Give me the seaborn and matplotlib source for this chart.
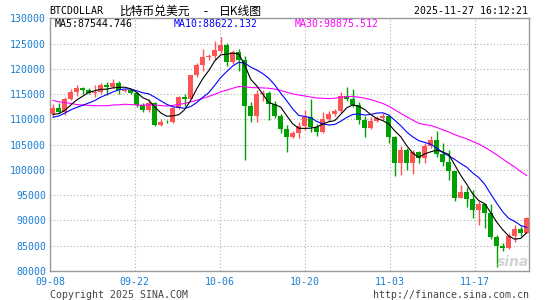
import numpy as np
import pandas as pd
import matplotlib
matplotlib.use("Agg")
import matplotlib.pyplot as plt
import seaborn as sns

# ---------------- data ----------------
# closes before the visible window (needed for the moving averages)
history_close = [119300, 118700, 120200, 123300, 118300, 117400, 117500, 117400,
                 116300, 113000, 114300, 112500, 116900, 115400, 113500, 110100,
                 111800, 111200, 112600, 108400, 108800, 108200, 109200, 111200,
                 111700, 110700, 110700, 110200, 111100]

opens = [111000, 112150, 111400, 113950, 115500, 116100, 115900, 115300, 115450, 116850,
         116300, 117150, 115700, 115750, 115250, 112750, 111900, 113300, 108950, 109500,
         109400, 112250, 114400, 114050, 118700, 120700, 122250, 122450, 123550, 124700,
         121400, 123300, 121650, 112600, 110650, 115000, 115200, 113050, 110700, 108150,
         106450, 107200, 108650, 110550, 108400, 107550, 110100, 111000, 111650, 114550,
         114100, 112900, 109850, 108250, 109650, 110300, 110650, 106500, 101400, 103900,
         101350, 103450, 102250, 104800, 105950, 103050, 101600, 99750, 94500, 95600,
         94300, 92000, 93150, 91450, 86700, 84900, 84500, 86850, 88350, 87500]
highs = [113050, 113250, 114400, 116000, 116700, 116400, 116100, 116750, 117100, 117300,
         117900, 117550, 116000, 115900, 115400, 113300, 113950, 113400, 110000, 109900,
         112500, 114600, 115100, 118800, 121200, 123900, 122950, 125600, 126200, 125200,
         123800, 123900, 122500, 113450, 115900, 115900, 115600, 113700, 111050, 108800,
         107700, 109450, 111750, 114000, 109100, 111400, 111700, 111950, 115450, 116400,
         116050, 113500, 110600, 110400, 110700, 111250, 110800, 106700, 104700, 104400,
         103900, 103800, 105300, 106650, 107600, 105300, 104000, 99800, 96900, 96500,
         96000, 93900, 93300, 93150, 87000, 85600, 87400, 89000, 88900, 90700]
lows = [110600, 111150, 110900, 113800, 114700, 115100, 114950, 114450, 114950, 114800,
        116200, 115050, 115400, 115100, 112500, 111450, 111500, 108700, 108600, 109250,
        109350, 112000, 112650, 113950, 118300, 119600, 121650, 121800, 123100, 120600,
        120900, 119500, 101900, 109400, 109500, 113650, 109950, 110200, 107350, 103550,
        106200, 106200, 107850, 107500, 106600, 107300, 109700, 110750, 111300, 113650,
        112350, 109150, 106400, 108050, 109500, 109900, 105250, 98800, 98900, 100000,
        99250, 101400, 101400, 104300, 102550, 100850, 97950, 93900, 94400, 92700,
        90400, 89050, 88400, 86300, 80700, 84000, 84300, 85800, 86800, 87500]
closes = [112150, 111400, 113950, 115500, 116100, 115900, 115300, 115500, 116850, 116300,
          117150, 115750, 115750, 115250, 112750, 111900, 113300, 108950, 109500, 109400,
          112250, 114400, 114050, 118700, 120700, 122250, 122450, 123650, 124700, 121400,
          123300, 121650, 112600, 110650, 115000, 115200, 113050, 110700, 108150, 106450,
          107200, 108650, 110550, 108400, 107550, 110100, 111000, 111650, 114550, 114100,
          112900, 109800, 108250, 109650, 110300, 110700, 106500, 101400, 103900, 101350,
          103450, 102250, 104800, 105950, 103050, 101600, 99750, 94500, 95600, 94300,
          92000, 93150, 91450, 86700, 84900, 84500, 86850, 88350, 87500, 90500]

xtick_labels = ["09-08", "09-22", "10-06", "10-20", "11-03", "11-17"]
ytick_values = list(range(80000, 130001, 5000))
symbol = "BTCDOLLAR"
title_parts = ["比特币兑美元", "-", "日K线图"]
timestamp = "2025-11-27 16:12:21"
ma_labels = ["MA5:87544.746", "MA10:88622.132", "MA30:98875.512"]

# ---------------- derived ----------------
n = len(closes)
df = pd.DataFrame({"i": np.arange(n), "open": opens, "high": highs,
                   "low": lows, "close": closes})
full = pd.Series(history_close + closes, dtype=float)
df["ma5"] = full.rolling(5).mean().values[-n:]
df["ma10"] = full.rolling(10).mean().values[-n:]
df["ma30"] = full.rolling(30).mean().values[-n:]

# ---------------- style ----------------
sns.set_theme(style="white")
plt.rcParams["font.family"] = ["DejaVu Sans Mono", "Noto Sans CJK SC"]

W, H = 545, 300
fig = plt.figure(figsize=(W / 100, H / 100), dpi=100)
fig.patch.set_facecolor("white")

def fx(x):
    return x / W

def fy(y):
    return 1 - y / H

left_px, right_px, top_px, bot_px = 50.3, 529.3, 18.3, 270.8
ax = fig.add_axes([fx(left_px), fy(bot_px), (right_px - left_px) / W,
                   (bot_px - top_px) / H])
ax.set_facecolor("white")

UP = "#ff5454"
DOWN = "#00a000"
colors = [UP if c >= o else DOWN for o, c in zip(df["open"], df["close"])]

# wicks
ax.vlines(df["i"], df["low"], df["high"], colors=colors, linewidth=1.0, zorder=2)
# bodies
body_bottom = np.minimum(df["open"], df["close"])
body_h = np.maximum(np.abs(df["close"] - df["open"]), 120)
ax.bar(df["i"], body_h, bottom=body_bottom, width=0.8, color=colors,
       linewidth=0, zorder=3)

# moving averages via seaborn
sns.lineplot(data=df, x="i", y="ma30", ax=ax, color="#ff00ff", linewidth=0.8, zorder=4)
sns.lineplot(data=df, x="i", y="ma10", ax=ax, color="#0000ff", linewidth=0.8, zorder=5)
sns.lineplot(data=df, x="i", y="ma5", ax=ax, color="#000000", linewidth=0.8, zorder=6)

ax.set_xlim(-0.4, n - 0.57)
ax.set_ylim(80000, 130000)
ax.set_xlabel("")
ax.set_ylabel("")

# axes ticks / grid
tick_pos = [max(-0.4, -0.53 + j * 85.1 / 6.0) for j in range(len(xtick_labels))]
ax.set_xticks(tick_pos)
ax.set_xticklabels(xtick_labels)
ax.set_yticks(ytick_values)
ax.set_yticklabels([str(v) for v in ytick_values])
label_blue = "#1a7ed4"
ax.tick_params(axis="both", length=0, labelsize=7.1, colors=label_blue)
ax.tick_params(axis="y", pad=3)
ax.tick_params(axis="x", pad=4.5)
ax.grid(True, color="#b0b0b0", linestyle=(0, (1, 2)), linewidth=0.8)
ax.set_axisbelow(True)
for s in ax.spines.values():
    s.set_color("#9a9a9a")
    s.set_linewidth(1.0)
    s.set_visible(True)

# header texts
fig.text(fx(49.7), fy(11.5), symbol, fontsize=7.1, color="black",
         ha="left", va="center", family="DejaVu Sans Mono")
cjk = ["Noto Sans CJK SC", "DejaVu Sans"]
fig.text(fx(120), fy(11.5), title_parts[0], fontsize=8.5, color="black",
         ha="left", va="center", family=cjk)
fig.text(fx(206), fy(11.5), title_parts[1], fontsize=8.5, color="black",
         ha="center", va="center", family=cjk)
fig.text(fx(219), fy(11.5), title_parts[2], fontsize=8.5, color="black",
         ha="left", va="center", family=cjk)
fig.text(fx(528.3), fy(11.5), timestamp, fontsize=7.1, color="black",
         ha="right", va="center", family="DejaVu Sans Mono")

ma_colors = ["#000000", "#0000ff", "#ff00ff"]
ma_x = [54.6, 173.8, 294.8]
for lab, col, xx in zip(ma_labels, ma_colors, ma_x):
    fig.text(fx(xx), fy(24.3), lab, fontsize=7.1, color=col,
             ha="left", va="center", family="DejaVu Sans Mono")

# footer texts
fig.text(fx(49.7), fy(294.5), "Copyright 2025 SINA.COM", fontsize=7.1,
         color="#444444", ha="left", va="center", family="DejaVu Sans Mono")
fig.text(fx(529), fy(294.5), "http://finance.sina.com.cn", fontsize=7.1,
         color="#444444", ha="right", va="center", family="DejaVu Sans Mono")

# faint watermark
fig.text(fx(513), fy(262), "sina", fontsize=10, color="#c8c8c8", alpha=0.8,
         ha="center", va="center", style="italic", weight="bold",
         family="DejaVu Sans")

fig.savefig("out.png", dpi=100, facecolor="white")
